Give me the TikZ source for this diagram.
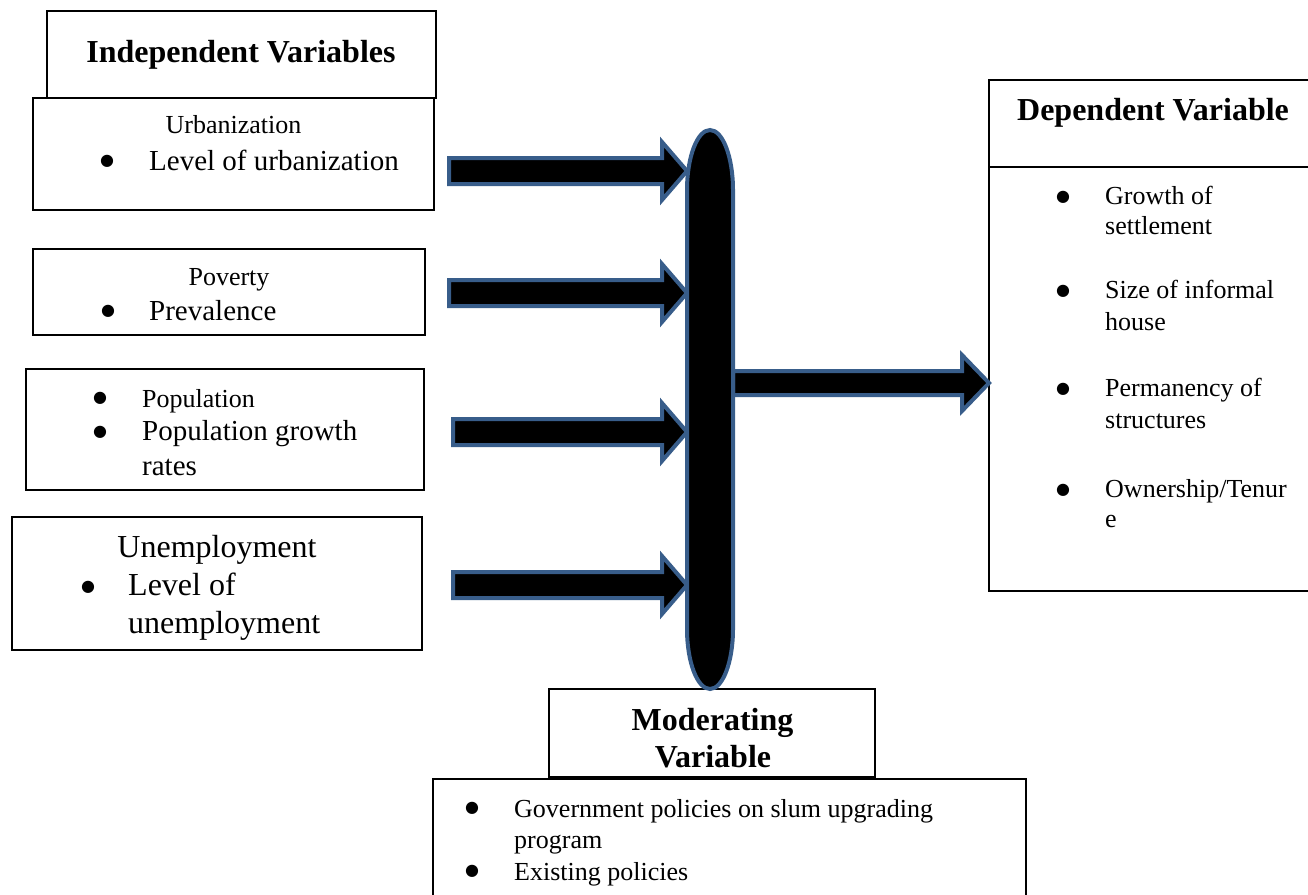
\documentclass[tikz,border=0pt]{standalone}
\usepackage{fontspec}
\setmainfont{Liberation Serif}
\newfontfamily\bulletfont{DejaVu Sans}
\usetikzlibrary{calc}
\definecolor{arrowblue}{RGB}{56,93,138}
\begin{document}
\begin{tikzpicture}[x=1pt,y=-1pt,
  box/.style={draw=black, line width=1.2pt, anchor=north west, inner sep=0pt, outer sep=0pt},
  fs/.style={font=\fontsize{26}{31}\selectfont, inner sep=0pt},
  fm/.style={font=\fontsize{29}{34}\selectfont, inner sep=0pt},
  fl/.style={font=\fontsize{32}{38}\selectfont, inner sep=0pt},
  fb/.style={font=\fontsize{32}{38}\selectfont\bfseries, inner sep=0pt},
  bul/.style={font=\bulletfont\fontsize{16}{16}\selectfont, inner sep=0pt, anchor=center},
  barrow/.style={fill=black, draw=arrowblue, line width=4pt, line join=miter},
  ellstyle/.style={fill=black, draw=arrowblue, line width=4pt},
]
\useasboundingbox (0,0) rectangle (1308,894);
\clip (0,0) rectangle (1308,894);

% ---------- boxes ----------
\node[box, minimum width=389, minimum height=87]  (ivh) at (47,11) {};
\node[box, minimum width=401, minimum height=112] (urb) at (33,98) {};
\node[box, minimum width=392, minimum height=86]  (pov) at (33,249) {};
\node[box, minimum width=398, minimum height=121] (pop) at (26,369) {};
\node[box, minimum width=410, minimum height=133] (une) at (12,517) {};
\node[box, minimum width=330, minimum height=87]  (dvh) at (989,80) {};
\node[box, minimum width=330, minimum height=424] (dvb) at (989,167) {};
\node[box, minimum width=326, minimum height=88]  (mvh) at (549,689) {};
\node[box, minimum width=593, minimum height=140] (mvb) at (433,779) {};

% ---------- texts ----------
\node[fb, anchor=base] (ivht) at (241,62) {Independent Variables};

\node[fs, anchor=base] (urbt1) at (233.5,133) {Urbanization};
\node[bul] (urbb1) at (107,161) {●};
\node[fm, anchor=base west] (urbt2) at (149,170) {Level of urbanization};

\node[fs, anchor=base] (povt1) at (229,285) {Poverty};
\node[bul] (povb1) at (108,311) {●};
\node[fm, anchor=base west] (povt2) at (149,320) {Prevalence};

\node[bul] (popb1) at (100,398) {●};
\node[fs, anchor=base west] (popt1) at (142,407) {Population};
\node[bul] (popb2) at (100,432) {●};
\node[fm, anchor=base west] (popt2) at (142,440) {Population growth};
\node[fm, anchor=base west] (popt3) at (142,475) {rates};

\node[fl, anchor=base] (unet1) at (217,557) {Unemployment};
\node[bul] (uneb1) at (88,587) {●};
\node[fl, anchor=base west] (unet2) at (128,595) {Level of};
\node[fl, anchor=base west] (unet3) at (128,633) {unemployment};

\node[fb, anchor=base] (dvht) at (1153,120) {Dependent Variable};
\node[bul] (dvb1) at (1063,197) {●};
\node[fs, anchor=base west] (dvt1) at (1105,204) {Growth of};
\node[fs, anchor=base west] (dvt1b) at (1105,234) {settlement};
\node[bul] (dvb2) at (1063,291) {●};
\node[fs, anchor=base west] (dvt2) at (1105,298) {Size of informal};
\node[fs, anchor=base west] (dvt2b) at (1105,330) {house};
\node[bul] (dvb3) at (1063,389) {●};
\node[fs, anchor=base west] (dvt3) at (1105,396) {Permanency of};
\node[fs, anchor=base west] (dvt3b) at (1105,428) {structures};
\node[bul] (dvb4) at (1063,490) {●};
\node[fs, anchor=base west] (dvt4) at (1105,497) {Ownership/Tenur};
\node[fs, anchor=base west] (dvt4b) at (1105,527) {e};

\node[fb, anchor=base] (mvht1) at (712.5,730) {Moderating};
\node[fb, anchor=base] (mvht2) at (713,767) {Variable};
\node[bul] (mvb1) at (472,808) {●};
\node[fs, anchor=base west] (mvt1) at (514,817) {Government policies on slum upgrading};
\node[fs, anchor=base west] (mvt1b) at (514,848) {program};
\node[bul] (mvb2) at (472,871) {●};
\node[fs, anchor=base west] (mvt2) at (514,880) {Existing policies};

% ---------- central shape (named) ----------
\node[minimum width=46, minimum height=559, inner sep=0pt, outer sep=0pt] (mod) at (710,409.5) {};

% ---------- block arrows ----------
\coordinate (t1) at (449,171);
\coordinate (t2) at (449,293);
\coordinate (t3) at (453,432);
\coordinate (t4) at (453,585);
\coordinate (t5) at (mod.east |- 0,383);
\coordinate (h1) at (mod.west |- t1);
\coordinate (h2) at (mod.west |- t2);
\coordinate (h3) at (mod.west |- t3);
\coordinate (h4) at (mod.west |- t4);
\coordinate (h5) at (dvb.west |- t5);

\foreach \a/\b in {t1/h1, t2/h2, t3/h3, t4/h4}{
  \draw[barrow] let \p1=(\a), \p2=(\b) in
    (\x1,\y1+13pt) -- (\x2-25pt,\y1+13pt) -- (\x2-25pt,\y1+29pt) -- (\x2,\y1)
    -- (\x2-25pt,\y1-29pt) -- (\x2-25pt,\y1-13pt) -- (\x1,\y1-13pt) -- cycle;
}
\draw[barrow] let \p1=(t5), \p2=(h5) in
    (\x1,\y1+12pt) -- (\x2-27pt,\y1+12pt) -- (\x2-27pt,\y1+28pt) -- (\x2,\y1)
    -- (\x2-27pt,\y1-28pt) -- (\x2-27pt,\y1-12pt) -- (\x1,\y1-12pt) -- cycle;

% ---------- central elongated ellipse ----------
\draw[ellstyle] (687,190) -- (687,629)
  arc[start angle=180, end angle=0, x radius=23, y radius=60]
  -- (733,190)
  arc[start angle=0, end angle=-180, x radius=23, y radius=60] -- cycle;
\end{tikzpicture}
\end{document}
